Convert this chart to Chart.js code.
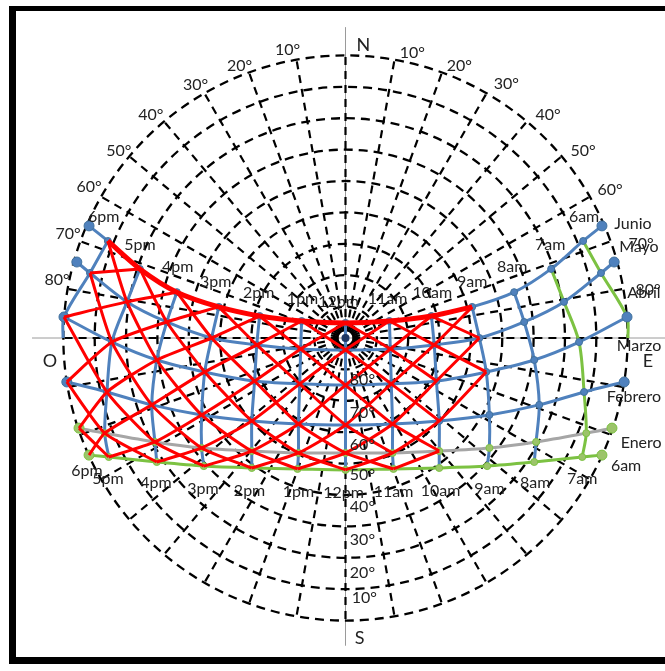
<!DOCTYPE html>
<html>
<head>
<meta charset="utf-8">
<script src="https://cdn.jsdelivr.net/npm/chart.js@4"></script>
<style>
  html, body { margin: 0; padding: 0; background: #fff; overflow: hidden; }
  #carta { position: absolute; left: 0; top: 0; }
  #marco { position: absolute; left: 9px; top: 6px; width: 700px; height: 646px;
           border: 7px solid #000; border-top-width: 5px; pointer-events: none; }
</style>
</head>
<body>
<canvas id="carta" width="665" height="671"></canvas>
<div id="marco"></div>
<script>
// puntos de la trayectoria solar (x = este-oeste, y = norte-sur, 90 = horizonte)
const horas = ['ocaso', '6pm', '5pm', '4pm', '3pm', '2pm', '1pm', '12pm', '11am', '10am', '9am', '8am', '7am', '6am', 'orto'];
const meses = ['Junio', 'Mayo', 'Abril', 'Marzo', 'Febrero', 'Enero'];

const junioX   = [-81.8, -75.8, -65.6, -53.8, -40.4, -27.4, -14.0, 0, 14.0, 27.4, 40.4, 53.8, 65.6, 75.8, 81.8];
const junioY   = [35.7, 30.9, 22.0, 14.6, 9.9, 7.0, 5.4, 4.8, 5.4, 7.0, 9.9, 14.6, 22.0, 30.9, 35.7];
const mayoX    = [-85.7, -81.5, -69.7, -57.0, -42.7, -28.3, -14.3, 0, 14.3, 28.3, 42.7, 57.0, 69.7, 81.5, 85.7];
const mayoY    = [24.2, 20.7, 11.5, 5.1, 0, -2.2, -3.5, -3.8, -3.5, -2.2, 0, 5.1, 11.5, 20.7, 24.2];
const abrilX   = [null, -89.8, -74.5, -60.2, -44.9, -29.0, -14.6, 0, 14.6, 29.0, 44.9, 60.2, 74.5, 89.8, null];
const abrilY   = [null, 6.7, -1.3, -7.0, -10.8, -13.7, -14.6, -15.0, -14.6, -13.7, -10.8, -7.0, -1.3, 6.7, null];
const marzoX   = [-88.9, null, -76.1, -61.8, -45.9, -29.9, -15.0, 0, 15.0, 29.9, 45.9, 61.8, 76.1, null, 88.9];
const marzoY   = [-14.0, null, -17.2, -21.3, -24.5, -26.4, -27.4, -27.7, -27.4, -26.4, -24.5, -21.3, -17.2, null, -14.0];
const febreroX = [-85.0, null, -76.8, -60.8, -45.9, -29.9, -15.0, 0, 15.0, 29.9, 45.9, 60.8, 76.8, null, 85.0];
const febreroY = [-28.7, null, -30.3, -33.1, -35.0, -36.0, -36.6, -36.6, -36.6, -36.0, -35.0, -33.1, -30.3, null, -28.7];
const eneroX   = [-81.8, null, -75.5, -60.2, -45.2, -29.9, -15.3, 0, 15.3, 29.9, 45.2, 60.2, 75.5, null, 81.8];
const eneroY   = [-37.3, null, -37.9, -39.5, -40.8, -41.4, -41.7, -42.0, -41.7, -41.4, -40.8, -39.5, -37.9, null, -37.3];

// prolongacion de las lineas de 6pm / 6am
const colaX = [-90.1, 90.1];
const colaY = [0, 0];

// nodos (indices de horas) que delimitan la zona rayada en rojo, por mes
const rojoHoras = [
  [1, 2, 3, 4, 5, 6, 7, 8, 9, 10],
  [1, 2, 3, 4, 5, 6, 7, 8, 9, 10],
  [1, 2, 3, 4, 5, 6, 7, 8, 9, 10],
  [0, 2, 3, 4, 5, 6, 7, 8, 9],
  [0, 2, 3, 4, 5, 6, 7, 8, 9],
  [0, 2, 3, 4, 5, 6, 7, 8]
];

// rejilla
const alturas = [0, 10, 20, 30, 40, 50, 60, 70, 80];
const azimuts = [];
for (let a = 0; a < 360; a += 10) azimuts.push(a);

const mesesX = [junioX, mayoX, abrilX, marzoX, febreroX, eneroX];
const mesesY = [junioY, mayoY, abrilY, marzoY, febreroY, eneroY];

const azul = '#4f81bd';
const verde = '#7cc242';
const gris = '#a6a6a6';
const rojo = '#ff0000';
const colorMes = [azul, azul, azul, azul, gris, verde];

function nodo(m, h) {
  return { x: mesesX[m][h], y: mesesY[m][h] };
}

function puntos(xs, ys, desde = 0, hasta = xs.length - 1) {
  const p = [];
  for (let i = desde; i <= hasta; i++) if (xs[i] !== null) p.push({ x: xs[i], y: ys[i] });
  return p;
}

const datasets = [];

// lineas horarias
for (let h = 1; h <= 13; h++) {
  const p = [];
  for (let m = 0; m < meses.length; m++) {
    if (mesesX[m][h] !== null) p.push(nodo(m, h));
  }
  if (h === 1) p.push({ x: colaX[0], y: colaY[0] });
  if (h === 13) p.push({ x: colaX[1], y: colaY[1] });
  datasets.push({
    data: p, showLine: true, borderColor: (h >= 12) ? verde : azul,
    borderWidth: 3, pointRadius: 0, tension: 0.3, order: 6
  });
}

// lineas de los meses
meses.forEach((mes, m) => {
  const p = puntos(mesesX[m], mesesY[m]);
  datasets.push({
    label: mes, data: p, showLine: true, borderColor: colorMes[m], borderWidth: 3,
    tension: 0.3, order: 5,
    pointRadius: c => (c.dataIndex === 0 || c.dataIndex === p.length - 1) ? 5 : 3.5,
    pointBackgroundColor: m >= 4 ? '#9cc46a' : azul,
    pointBorderColor: m >= 4 ? verde : '#41719c',
    pointBorderWidth: 1
  });
});

// diagonales rojas (bajando y subiendo hacia la derecha)
for (let c = -5; c <= 9; c++) {
  const p = [];
  for (let m = 0; m < rojoHoras.length; m++) {
    const j = m + c;
    if (j >= 0 && j < rojoHoras[m].length) p.push(nodo(m, rojoHoras[m][j]));
  }
  if (p.length > 1) datasets.push({ data: p, showLine: true, borderColor: rojo, borderWidth: 3, pointRadius: 0, tension: 0.2, order: 2 });
}
for (let c = 0; c <= 14; c++) {
  const p = [];
  for (let m = rojoHoras.length - 1; m >= 0; m--) {
    const j = c - m;
    if (j >= 0 && j < rojoHoras[m].length) p.push(nodo(m, rojoHoras[m][j]));
  }
  if (p.length > 1) datasets.push({ data: p, showLine: true, borderColor: rojo, borderWidth: 3, pointRadius: 0, tension: 0.2, order: 2 });
}

// tramo de junio resaltado
datasets.push({
  data: puntos(junioX, junioY, 1, 10), showLine: true, borderColor: rojo,
  borderWidth: 5, pointRadius: 0, tension: 0.3, order: 1
});

// cenit
datasets.push({ data: [{ x: 0, y: 0 }], pointRadius: 4, pointBackgroundColor: '#1f3864', pointBorderWidth: 0, order: 0 });

// textos
const etiquetasArriba = [
  ['6pm', -77.1, 38.5], ['5pm', -65.6, 29.6], ['4pm', -53.5, 22.6], ['3pm', -41.4, 17.8],
  ['2pm', -27.7, 14.3], ['1pm', -13.7, 12.4], ['12pm', -2.2, 11.5], ['11am', 13.4, 12.4],
  ['10am', 27.7, 14.3], ['9am', 40.4, 17.8], ['8am', 53.2, 22.6], ['7am', 65.3, 29.6], ['6am', 76.1, 38.5]
];
const etiquetasAbajo = [
  ['6pm', -82.5, -42.4], ['5pm', -75.8, -44.9], ['4pm', -60.5, -46.2], ['3pm', -45.5, -48.1],
  ['2pm', -30.6, -48.7], ['1pm', -15.0, -49.0], ['12pm', -0.6, -49.4], ['11am', 15.3, -49.0],
  ['10am', 30.3, -48.7], ['9am', 45.9, -48.1], ['8am', 60.5, -46.2], ['7am', 75.5, -44.9], ['6am', 89.5, -40.8]
];
const etiquetasMes = [
  ['Junio', 91.7, 36.3], ['Mayo', 93.6, 29.0], ['Abril', 95.2, 14.3],
  ['Marzo', 93.6, -2.5], ['Febrero', 92.0, -18.8], ['Enero', 94.3, -33.4]
];
const etiquetasAltura = [
  ['80°', 5.4, -13.4], ['70°', 5.4, -23.9], ['60°', 5.4, -34.1], ['50°', 5.4, -43.6],
  ['40°', 5.4, -53.8], ['30°', 5.4, -64.3], ['20°', 5.4, -74.8], ['10°', 6.0, -82.8]
];
const etiquetasAzimut = [
  ['10°', -18.5, 91.7], ['20°', -33.8, 86.6], ['30°', -47.8, 80.6], ['40°', -62.1, 71.0],
  ['50°', -72.3, 59.6], ['60°', -81.8, 48.1], ['70°', -88.5, 33.1], ['80°', -92.0, 18.5],
  ['10°', 21.3, 90.8], ['20°', 36.3, 86.6], ['30°', 51.3, 80.9], ['40°', 64.6, 71.0],
  ['50°', 75.8, 59.6], ['60°', 84.4, 47.1], ['70°', 94.3, 29.9], ['80°', 96.5, 15.3]
];
const puntosCardinales = [['N', 5.7, 93.3], ['S', 4.5, -95.5], ['O', -94.3, -7.3], ['E', 96.5, -7.3]];

const rejilla = {
  id: 'rejilla',
  beforeDatasetsDraw(chart) {
    const { ctx, scales: { x, y } } = chart;
    const cx = x.getPixelForValue(0), cy = y.getPixelForValue(0);
    const kx = x.getPixelForValue(1) - cx, ky = cy - y.getPixelForValue(1);
    ctx.save();
    ctx.strokeStyle = '#9a9a9a';
    ctx.lineWidth = 1;
    ctx.beginPath();
    ctx.moveTo(cx, y.getPixelForValue(99)); ctx.lineTo(cx, y.getPixelForValue(-98));
    ctx.moveTo(x.getPixelForValue(-100), cy); ctx.lineTo(x.getPixelForValue(102), cy);
    ctx.stroke();
    ctx.strokeStyle = '#000';
    ctx.lineWidth = 2.3;
    ctx.setLineDash([9, 6]);
    alturas.forEach(a => {
      const r = 90 - a;
      ctx.beginPath();
      ctx.ellipse(cx, cy, r * kx, r * ky, 0, 0, Math.PI * 2);
      ctx.stroke();
    });
    // radios: arrancan un poco fuera del centro
    ctx.lineWidth = 2.2;
    ctx.setLineDash([8, 6]);
    azimuts.forEach(a => {
      const t = a * Math.PI / 180;
      ctx.beginPath();
      ctx.moveTo(cx + 2.2 * kx * Math.sin(t), cy - 2.2 * ky * Math.cos(t));
      ctx.lineTo(cx + 90 * kx * Math.sin(t), cy - 90 * ky * Math.cos(t));
      ctx.stroke();
    });
    ctx.restore();
  },
  afterDatasetsDraw(chart) {
    const { ctx, scales: { x, y } } = chart;
    ctx.save();
    ctx.fillStyle = '#222';
    ctx.font = '16px Lato';
    ctx.textAlign = 'center';
    ctx.textBaseline = 'middle';
    const escribir = lista => lista.forEach(([t, u, v]) => ctx.fillText(t, x.getPixelForValue(u), y.getPixelForValue(v)));
    escribir(etiquetasArriba);
    escribir(etiquetasAbajo);
    escribir(etiquetasMes);
    escribir(etiquetasAltura);
    escribir(etiquetasAzimut);
    ctx.font = '18px Lato';
    escribir(puntosCardinales);
    ctx.restore();
  }
};

new Chart(document.getElementById('carta'), {
  type: 'scatter',
  data: { datasets },
  options: {
    responsive: false,
    animation: false,
    layout: { padding: { left: 32, right: 5, top: 24, bottom: 19 } },
    scales: {
      x: { type: 'linear', min: -100, max: 100, display: false },
      y: { type: 'linear', min: -100, max: 100, display: false }
    },
    plugins: { legend: { display: false }, tooltip: { enabled: false } }
  },
  plugins: [rejilla]
});
</script>
</body>
</html>
